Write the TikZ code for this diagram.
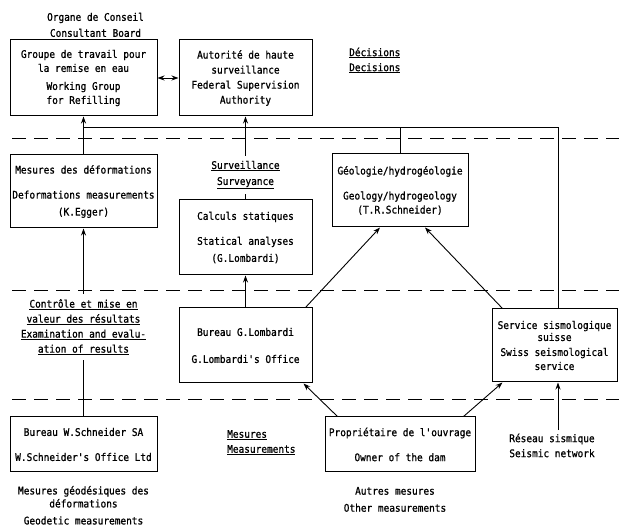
\documentclass[tikz,border=0pt]{standalone}
\usepackage{fontspec}
\setmainfont{DejaVu Sans Mono}[FakeStretch=0.9, FakeBold=1, Ligatures=TeXOff]
\usetikzlibrary{positioning, calc, arrows.meta}
\tikzstyle{arrow} = [line width=0.9pt,->,>={Stealth[length=7pt,width=5pt]}]

\begin{document}
\begin{tikzpicture}[
    x=1pt, y=-1pt,
    font=\fontsize{10.5}{14}\selectfont,
    box/.style={draw, line width=1pt, align=center, inner sep=2pt},
    lbl/.style={align=center},
    band/.style={line width=1pt, dash pattern=on 14pt off 8pt}
  ]
  \useasboundingbox (0,0) rectangle (619,526);

  % bands
  \draw[band] (12,139) -- (619,139);
  \draw[band] (12,291) -- (619,291);
  \draw[band] (12,400) -- (619,400);

  % boxes
  \node[box, minimum width=147pt, minimum height=76pt] (grp) at (83.5,78)
    {Groupe de travail pour\\la remise en eau\\[4pt]Working Group\\for Refilling};
  \node[box, minimum width=133pt, minimum height=76pt] (aut) at (245.5,78)
    {Autorité de haute\\[1pt]surveillance\\[1pt]Federal Supervision\\[1pt]Authority};
  \node[box, minimum width=147pt, minimum height=73pt] (mes) at (83.5,191.5)
    {Mesures des déformations\\[11pt]Deformations measurements\\[3pt](K.Egger)};
  \node[box, minimum width=133pt, minimum height=75pt] (calc) at (245.5,237.5)
    {Calculs statiques\\[11pt]Statical analyses\\[3pt](G.Lombardi)};
  \node[box, minimum width=136pt, minimum height=73pt] (geo) at (400,190.5)
    {Géologie/hydrogéologie\\[11pt]Geology/hydrogeology\\(T.R.Schneider)};
  \node[box, minimum width=133pt, minimum height=75pt] (lomb) at (245.5,345.5)
    {Bureau G.Lombardi\\[13pt]G.Lombardi's Office};
  \node[box, minimum width=125pt, minimum height=73pt] (swiss) at (554.5,345.5)
    {Service sismologique\\[-2pt]suisse\\[1pt]Swiss seismological\\service};
  \node[box, minimum width=147pt, minimum height=55pt] (wsch) at (83.5,444.5)
    {Bureau W.Schneider SA\\[11pt]W.Schneider's Office Ltd};
  \node[box, minimum width=150pt, minimum height=55pt] (owner) at (400,444.5)
    {Propriétaire de l'ouvrage\\[11pt]Owner of the dam};

  % free labels
  \node[lbl, above=-1pt of grp, xshift=12pt] (organe) {Organe de Conseil\\[2pt]Consultant Board};
  \node[lbl, below=10pt of wsch] (geod) {Mesures géodésiques des\\[-1pt]déformations\\[3pt]Geodetic measurements};
  \node[lbl, below=11pt of owner, xshift=-5pt] (autres) {Autres mesures\\[3pt]Other measurements};
  \node[align=left, anchor=west, inner sep=0pt] (dec) at (349,60.5)
    {\underline{Décisions}\\[1pt]\underline{Decisions}};
  \node[align=left, anchor=west, inner sep=0pt] (meas) at (227,442.5)
    {\underline{Mesures}\\[1pt]\underline{Measurements}};
  \node[lbl] (res) at (552,445.5) {Réseau sismique\\[1pt]Seismic network};

  % connectors
  \coordinate (bus) at (0,128);
  \coordinate (sw) at ([xshift=3.5pt]swiss.north);
  \draw[arrow,<->] (grp) -- (aut);
  \draw[arrow] (mes.north) -- (grp.south);
  \draw[line width=1pt] (grp.south |- bus) -- (sw |- bus) -- (sw);
  \draw[line width=1pt] (geo.north) -- (geo.north |- bus);
  \draw[arrow] (calc.north) -- (aut.south);
  \draw[arrow] (wsch.north) -- (mes.south);
  \draw[arrow] (lomb.north) -- (calc.south);
  \draw[arrow] ([xshift=-7pt]lomb.north east) -- ([xshift=-20pt]geo.south);
  \draw[arrow] ([xshift=11pt]swiss.north west) -- ([xshift=25pt]geo.south);
  \draw[arrow] ([xshift=13pt]owner.north west) -- ([xshift=-9pt]lomb.south east);
  \draw[arrow] ([xshift=-12pt]owner.north east) -- ([xshift=11pt]swiss.south west);
  \draw[arrow] (res.north -| sw) -- (swiss.south -| sw);

  % labels over the lines
  \node[lbl, fill=white, inner sep=5pt] (surv) at (245.5,175)
    {\underline{Surveillance}\\[2pt]\underline{Surveyance}};
  \node[lbl, fill=white, inner sep=5pt] (ctrl) at (83.5,327)
    {\underline{Contrôle et mise en}\\[1pt]\underline{valeur des résultats}\\[1pt]\underline{Examination and evalu-}\\[1pt]\underline{ation of results}};
\end{tikzpicture}
\end{document}
